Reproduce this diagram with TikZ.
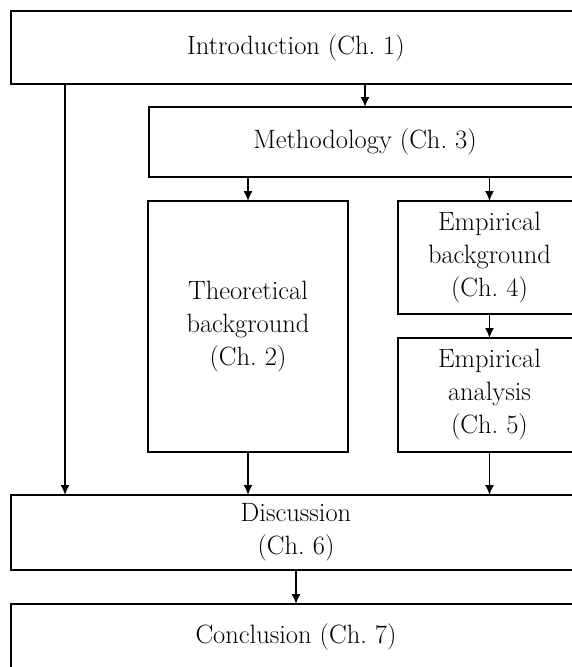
\documentclass[tikz,border=0pt]{standalone}
\usetikzlibrary{arrows.meta}
\begin{document}
\begin{tikzpicture}[x=1pt,y=-1pt,
  chbox/.style={draw=black, line width=1.8pt, inner sep=0pt, outer sep=0pt,
    align=center, font=\fontsize{26.5}{33}\selectfont},
  flow/.style={line width=1.6pt, -{Latex[length=10pt,width=9pt]}}]
  \useasboundingbox (0,0) rectangle (572,667);
  \clip (0,0) rectangle (572,667);
  \fill[white] (0,0) rectangle (572,667);

  % chapter boxes (the right-hand column runs past the page edge)
  \node[chbox, minimum width=570pt, minimum height=73pt] (intro) at (296,47.5) {Introduction (Ch.~1)};
  \node[chbox, minimum width=432pt, minimum height=70pt] (meth) at (365,142) {Methodology (Ch.~3)};
  \node[chbox, minimum width=200pt, minimum height=251pt] (theo) at (248,326.5) {Theoretical\\background\\(Ch.~2)};
  \node[chbox, minimum width=183pt, minimum height=113pt] (empbg) at (489.5,257.5) {Empirical\\background\\(Ch.~4)};
  \node[chbox, minimum width=183pt, minimum height=114pt] (empan) at (489.5,395) {Empirical\\analysis\\(Ch.~5)};
  \node[chbox, minimum width=570pt, minimum height=75pt] (disc) at (296,532.5) {Discussion\\(Ch.~6)};
  \node[chbox, minimum width=570pt, minimum height=66pt] (concl) at (296,637) {Conclusion (Ch.~7)};

  % bypass from the introduction straight to the discussion
  \coordinate (bypass) at (65,0);

  % connectors
  \draw[flow] (intro.south -| meth.north) -- (meth.north);
  \draw[flow] (intro.south -| bypass) -- (disc.north -| bypass);
  \draw[flow] (meth.south -| theo.north) -- (theo.north);
  \draw[flow] (meth.south -| empbg.north) -- (empbg.north);
  \draw[flow] (empbg.south) -- (empan.north);
  \draw[flow] (theo.south) -- (disc.north -| theo.south);
  \draw[flow] (empan.south) -- (disc.north -| empan.south);
  \draw[flow] (disc.south) -- (concl.north);
\end{tikzpicture}
\end{document}
